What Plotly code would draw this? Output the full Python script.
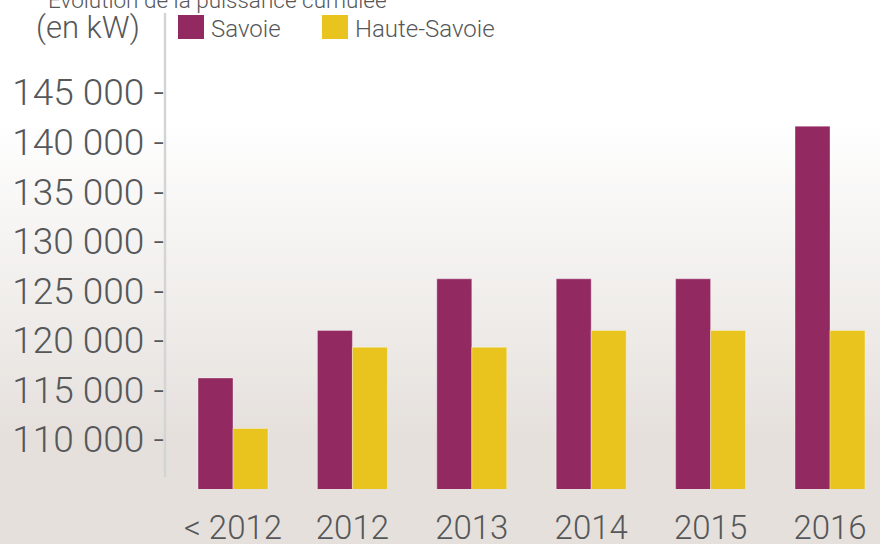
import plotly.graph_objects as go

categories = ["< 2012", "2012", "2013", "2014", "2015", "2016"]
series_names = ["Savoie", "Haute-Savoie"]
savoie = [116200, 121000, 126200, 126200, 126200, 141600]
haute_savoie = [111100, 119300, 119300, 121000, 121000, 121000]
tick_vals = [110000, 115000, 120000, 125000, 130000, 135000, 140000, 145000]
tick_text = ["110 000 -", "115 000 -", "120 000 -", "125 000 -",
             "130 000 -", "135 000 -", "140 000 -", "145 000 -"]
colors = ["#922A61", "#E9C41F"]

W, H = 880, 544
L, R, T, B = 165, 0, 68, 55
PH = H - T - B
PW = W - L - R

def px_x(px):
    return (px - L) / PW

def px_y(py):
    return (H - B - py) / PH

FONT = "Roboto"
TXT = "#555759"

fig = go.Figure()
for name, vals, col in zip(series_names, [savoie, haute_savoie], colors):
    fig.add_trace(go.Bar(
        x=categories, y=vals, name=name,
        marker=dict(color=col, line=dict(color="rgba(255,255,255,0.35)", width=1)),
        showlegend=False,
    ))

shapes = []
top_c = (255, 255, 255)
bot_c = (229, 224, 220)
g0, g1, n = 120, 440, 40
shapes.append(dict(type="rect", xref="paper", yref="paper",
                   x0=px_x(0), x1=px_x(W), y0=px_y(g1), y1=px_y(H),
                   fillcolor="rgb(%d,%d,%d)" % bot_c, line=dict(width=0), layer="below"))
for i in range(n):
    y_a = g0 + (g1 - g0) * i / n
    y_b = g0 + (g1 - g0) * (i + 1) / n + 0.6
    t = (i + 0.5) / n
    c = tuple(round(top_c[k] + (bot_c[k] - top_c[k]) * t) for k in range(3))
    shapes.append(dict(type="rect", xref="paper", yref="paper",
                       x0=px_x(0), x1=px_x(W), y0=px_y(y_b), y1=px_y(y_a),
                       fillcolor="rgb(%d,%d,%d)" % c, line=dict(width=0), layer="below"))
shapes.append(dict(type="line", xref="paper", yref="paper",
                   x0=px_x(165), x1=px_x(165), y0=px_y(477), y1=px_y(13),
                   line=dict(color="#D2D5D3", width=2.5)))
leg = [(178, 204, 209), (322, 348, 353)]
annotations = []
for (xa, xb, xt), name, col in zip(leg, series_names, colors):
    shapes.append(dict(type="rect", xref="paper", yref="paper",
                       x0=px_x(xa), x1=px_x(xb), y0=px_y(39), y1=px_y(15),
                       fillcolor=col, line=dict(width=0)))
    annotations.append(dict(text=name, xref="paper", yref="paper",
                            x=px_x(xt), y=px_y(29), xanchor="left", yanchor="middle",
                            showarrow=False,
                            font=dict(family=FONT, size=24, color=TXT, weight=300)))

annotations.append(dict(text="(en kW)", xref="paper", yref="paper",
                        x=px_x(142), y=px_y(28), xanchor="right", yanchor="middle",
                        showarrow=False, font=dict(family=FONT, size=31, color=TXT, weight=300)))
annotations.append(dict(text="Évolution de la puissance cumulée", xref="paper", yref="paper",
                        x=px_x(46), y=px_y(15), xanchor="left", yanchor="bottom",
                        showarrow=False, font=dict(family=FONT, size=22.5, color=TXT, weight=300)))

x_left, x_right = -(233 - L) / 119.4, 5 + (880 - 830) / 119.4
fig.update_layout(
    width=W, height=H,
    margin=dict(l=L, r=R, t=T, b=B, pad=0),
    paper_bgcolor="#FFFFFF",
    plot_bgcolor="rgba(0,0,0,0)",
    barmode="group", bargap=0.414, bargroupgap=0,
    shapes=shapes, annotations=annotations,
    xaxis=dict(range=[x_left, x_right], showgrid=False, zeroline=False, showline=False,
               automargin=False,
               ticks="", tickfont=dict(family=FONT, size=33, color=TXT, weight=300),
               ticklabelstandoff=16),
    yaxis=dict(range=[105000, 105000 + PH / 0.009914], showgrid=False, zeroline=False,
               showline=False, ticks="", tickvals=tick_vals, ticktext=tick_text,
               automargin=False,
               tickfont=dict(family=FONT, size=37, color=TXT, weight=300),
               ticklabelstandoff=0),
    showlegend=False,
)
fig.write_html("out.html", config={"displayModeBar": False},
               post_script="document.body.style.margin='0';document.body.style.overflow='hidden';")
